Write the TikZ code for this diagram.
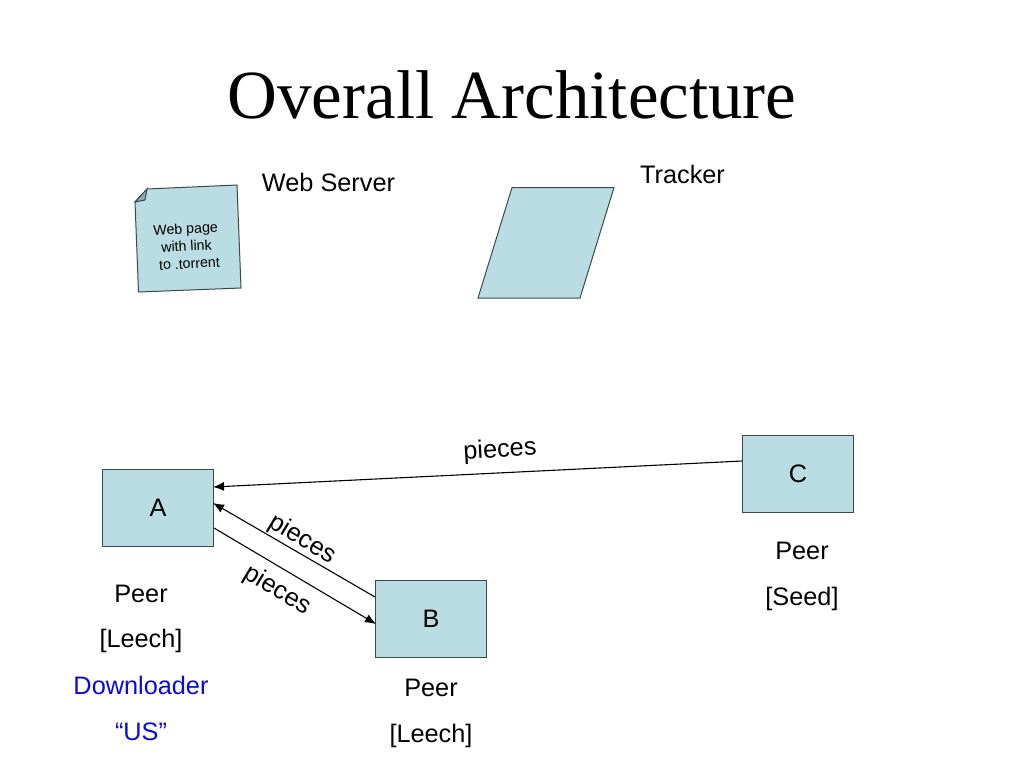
\documentclass[tikz,border=0pt]{standalone}
\usepackage{fontspec}
\setmainfont{Liberation Sans}
\newfontfamily\titlefont{Liberation Serif}
\usetikzlibrary{arrows.meta,calc}
\definecolor{shapefill}{HTML}{B9DDE2}
\definecolor{shapeline}{HTML}{3A4A4C}
\definecolor{fold}{HTML}{93A9AD}
\definecolor{dlblue}{HTML}{0A0AD8}
\tikzset{
  x=1pt,y=-1pt,
  peerbox/.style={draw=shapeline,fill=shapefill,line width=1pt,minimum width=111pt,minimum height=77pt,inner sep=0pt,font=\fontsize{25.3}{28}\selectfont},
  lbl/.style={inner sep=0pt,font=\fontsize{25.3}{28}\selectfont,text=black},
  conn/.style={draw=black,line width=1.1pt},
  tip/.style={-{Latex[length=11pt,width=9pt]}},
  shapeedge/.style={draw=shapeline,fill=shapefill,line width=1pt}
}
\begin{document}
\begin{tikzpicture}
\useasboundingbox (0,0) rectangle (1024,768);
\fill[white] (0,0) rectangle (1024,768);
\node[inner sep=0pt,font=\titlefont\fontsize{69}{75}\selectfont] (title) at (512,94.5) {Overall Architecture};
% note
\path[shapeedge] (147,189) -- (237,185) -- (241,288) -- (138.5,292) -- (135,202) -- cycle;
\path[draw=shapeline,fill=fold,line width=1pt] (135,202) -- (147,189) -- (145,200) -- cycle;
\node[inner sep=0pt,rotate=3,align=center,font=\fontsize{14.2}{17.5}\selectfont] (note) at (186.5,246) {Web page\\with link\\\ to .torrent};
\node[lbl] (web) at (328.5,182.5) {Web Server};
% tracker
\path[shapeedge] (512,187.5) -- (614,187.5) -- (580,298) -- (478,298) -- cycle;
\node[lbl] (tracker) at (682.5,174.5) {Tracker};
% peers
\node[peerbox] (A) at (158,507.5) {A};
\node[peerbox] (B) at (431,618.5) {B};
\node[peerbox] (C) at (798,473.5) {C};
\coordinate (Ain1) at (213,487);
\coordinate (Ain2) at (213,503);
\coordinate (Aout) at (214,528);
\coordinate (Bin) at (376,624);
\coordinate (Bout) at (375,597);
\coordinate (Cout) at (742,461);
\draw[conn,tip] (Cout) -- (Ain1);
\draw[conn,tip] (Bout) -- (Ain2);
\draw[conn,tip] (Aout) -- (Bin);
\node[lbl,rotate=3.5] (p1) at (500,450.5) {pieces};
\node[lbl,rotate=-31] (p2) at (302.5,539.5) {pieces};
\node[lbl,rotate=-31] (p3) at (277,590.5) {pieces};
\node[lbl] (a1) at (141,593.5) {Peer};
\node[lbl] (a2) at (141,641) {[Leech]};
\node[lbl,text=dlblue] (a3) at (141,685) {Downloader};
\node[lbl,text=dlblue] (a4) at (141,731.5) {“US”};
\node[lbl] (b1) at (431,687.5) {Peer};
\node[lbl] (b2) at (431,735.5) {[Leech]};
\node[lbl] (c1) at (802,551) {Peer};
\node[lbl] (c2) at (802,599) {[Seed]};
\end{tikzpicture}
\end{document}
